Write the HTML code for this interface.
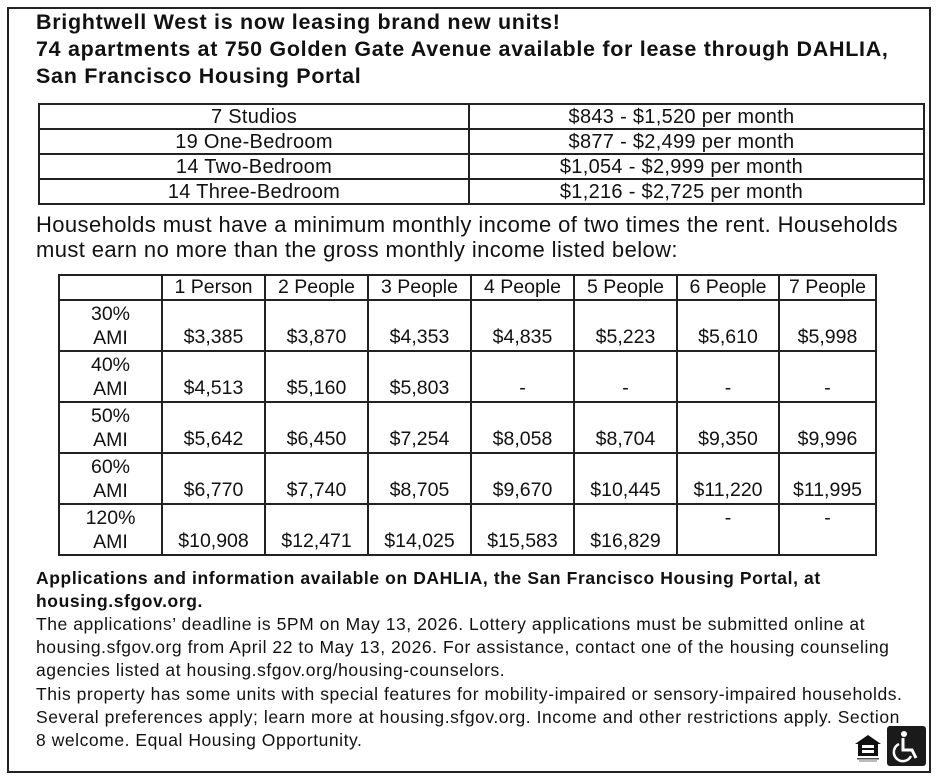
<!DOCTYPE html>
<html><head><meta charset="utf-8"><style>
*{margin:0;padding:0;box-sizing:border-box}
body{width:937px;height:781px;background:#fff;font-family:"Liberation Sans",Arial,sans-serif;color:#111;position:relative;overflow:hidden}
.frame{position:absolute;left:7px;top:7px;width:924px;height:766px;border:2px solid #222}
.abs{position:absolute;white-space:nowrap}
h1{position:absolute;left:36px;top:9px;font-size:21.5px;line-height:27px;font-weight:bold;letter-spacing:0.7px;white-space:nowrap}
table{position:absolute;border-collapse:collapse}
td{border:2px solid #222;text-align:center;padding:0;white-space:nowrap}
#t1{left:38px;top:103px;width:887px;font-size:20px;letter-spacing:0.3px}
#t1 td{height:25px;line-height:22px}
#t1 td.rc{padding-right:30px}
#t2{left:58px;top:274px;width:819px;font-size:19.5px;table-layout:fixed}
#t2 td{height:51px;vertical-align:bottom;line-height:25px}
#t2 tr:first-child td{height:25px;vertical-align:middle;line-height:23px}
#t2 td.l{vertical-align:top;line-height:24px;padding-top:1px}
.p{position:absolute;left:36px;top:212px;font-size:22px;line-height:25px;letter-spacing:0.4px;white-space:nowrap}
.b{position:absolute;left:36px;top:567px;font-size:17.5px;line-height:23px;font-weight:bold;letter-spacing:0.6px;white-space:nowrap}
.r{position:absolute;left:36px;top:613px;font-size:17.5px;line-height:23.2px;letter-spacing:0.55px;white-space:nowrap}
</style></head><body>
<div class="frame"></div>
<h1>Brightwell West is now leasing brand new units!<br>74 apartments at 750 Golden Gate Avenue available for lease through DAHLIA,<br>San Francisco Housing Portal</h1>
<table id="t1">
<tr><td style="width:430px">7 Studios</td><td class="rc">$843 - $1,520 per month</td></tr>
<tr><td>19 One-Bedroom</td><td class="rc">$877 - $2,499 per month</td></tr>
<tr><td>14 Two-Bedroom</td><td class="rc">$1,054 - $2,999 per month</td></tr>
<tr><td>14 Three-Bedroom</td><td class="rc">$1,216 - $2,725 per month</td></tr>
</table>
<div class="p">Households must have a minimum monthly income of two times the rent. Households<br>must earn no more than the gross monthly income listed below:</div>
<table id="t2">
<colgroup><col style="width:103px"><col style="width:103px"><col style="width:103px"><col style="width:103px"><col style="width:103px"><col style="width:103px"><col style="width:102px"><col></colgroup>
<tr><td></td><td>1 Person</td><td>2 People</td><td>3 People</td><td>4 People</td><td>5 People</td><td>6 People</td><td>7 People</td></tr>
<tr><td class="l">30%<br>AMI</td><td>$3,385</td><td>$3,870</td><td>$4,353</td><td>$4,835</td><td>$5,223</td><td>$5,610</td><td>$5,998</td></tr>
<tr><td class="l">40%<br>AMI</td><td>$4,513</td><td>$5,160</td><td>$5,803</td><td>-</td><td>-</td><td>-</td><td>-</td></tr>
<tr><td class="l">50%<br>AMI</td><td>$5,642</td><td>$6,450</td><td>$7,254</td><td>$8,058</td><td>$8,704</td><td>$9,350</td><td>$9,996</td></tr>
<tr><td class="l">60%<br>AMI</td><td>$6,770</td><td>$7,740</td><td>$8,705</td><td>$9,670</td><td>$10,445</td><td>$11,220</td><td>$11,995</td></tr>
<tr><td class="l">120%<br>AMI</td><td>$10,908</td><td>$12,471</td><td>$14,025</td><td>$15,583</td><td>$16,829</td><td class="l">-</td><td class="l">-</td></tr>
</table>
<div class="b">Applications and information available on DAHLIA, the San Francisco Housing Portal, at<br>housing.sfgov.org.</div>
<div class="r">The applications’ deadline is 5PM on May 13, 2026. Lottery applications must be submitted online at<br>housing.sfgov.org from April 22 to May 13, 2026. For assistance, contact one of the housing counseling<br>agencies listed at housing.sfgov.org/housing-counselors.<br>This property has some units with special features for mobility-impaired or sensory-impaired households.<br>Several preferences apply; learn more at housing.sfgov.org. Income and other restrictions apply. Section<br>8 welcome. Equal Housing Opportunity.</div>
<svg class="abs" style="left:852px;top:733px" width="32" height="30" viewBox="0 0 32 30">
<path d="M16 2 L3 11 L6 11 L6 23 L26 23 L26 11 L29 11 Z" fill="#111"/>
<rect x="10" y="12" width="12" height="3" fill="#fff"/><rect x="10" y="17" width="12" height="3" fill="#fff"/>
<rect x="5" y="25" width="22" height="1.5" fill="#555"/><rect x="7" y="27.5" width="18" height="1" fill="#777"/>
</svg>
<svg class="abs" style="left:887px;top:726px" width="39" height="40" viewBox="0 0 39 40">
<rect width="39" height="40" rx="3" fill="#1a1a1a"/>
<circle cx="17" cy="8" r="3" fill="#fff"/>
<path d="M16 12 L16 24 L25 24 L29 32" stroke="#fff" stroke-width="3" fill="none"/>
<path d="M12 18 A9 9 0 1 0 24 30" stroke="#fff" stroke-width="2.5" fill="none"/>
</svg>
</body></html>
